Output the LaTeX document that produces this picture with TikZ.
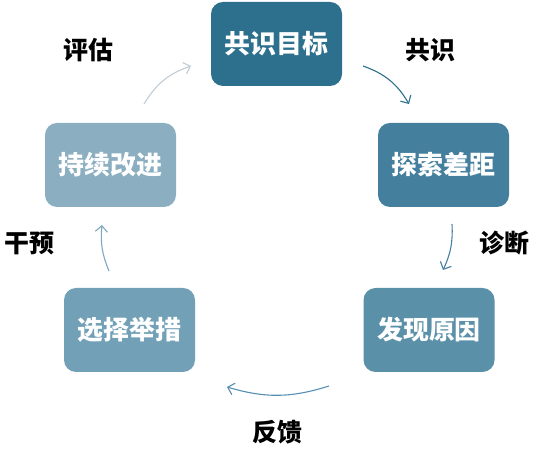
\documentclass[tikz,border=0pt]{standalone}
\usepackage{fontspec}
\setmainfont{Noto Sans CJK SC}
\usetikzlibrary{arrows.meta}
\definecolor{cA}{RGB}{44,112,142}
\definecolor{cB}{RGB}{68,128,157}
\definecolor{cC}{RGB}{91,144,169}
\definecolor{cD}{RGB}{114,160,182}
\definecolor{cE}{RGB}{139,175,193}
\definecolor{aC}{RGB}{84,142,180}
\definecolor{aD}{RGB}{127,166,192}
\definecolor{aE}{RGB}{192,204,214}
\tikzset{
  box/.style={rounded corners=12bp, minimum width=131bp, minimum height=84bp,
    text=white, font=\fontsize{26}{30}\selectfont\bfseries, inner sep=0pt},
  lbl/.style={font=\fontsize{25}{30}\selectfont\bfseries},
  arr/.style={line width=1.1bp, -{Straight Barb[length=6bp,width=12bp]}, bend left=#1}
}
\begin{document}
\begin{tikzpicture}
		[x=1bp, y=1bp]
		\useasboundingbox (0,0) rectangle (536,454);
		\node[box, fill=cA] (goal) at (276.5,410) {共识目标};
		\node[box, fill=cB] (gap) at (443.5,289) {探索差距};
		\node[box, fill=cC] (cause) at (429,124) {发现原因};
		\node[box, fill=cD] (measure) at (129.5,124) {选择举措};
		\node[box, fill=cE] (improve) at (110.5,289) {持续改进};
		\node[lbl] (lgoal) at (430,404) {共识};
		\node[lbl] (lgap) at (504,211) {诊断};
		\node[lbl] (lcause) at (277,22) {反馈};
		\node[lbl] (lmeasure) at (29.5,210) {干预};
		\node[lbl] (limprove) at (88,404) {评估};
		\coordinate (a1) at (363,388);
		\coordinate (b1) at (409,350);
		\coordinate (a2) at (452,230);
		\coordinate (b2) at (443,184);
		\coordinate (a3) at (329,68);
		\coordinate (b3) at (227,67);
		\coordinate (a4) at (109,183);
		\coordinate (b4) at (102,229);
		\coordinate (a5) at (144,350);
		\coordinate (b5) at (191,388);
		\draw (a1) edge[arr=20, draw=cA] (b1);
		\draw (a2) edge[arr=14, draw=cB] (b2);
		\draw (a3) edge[arr=17, draw=aC] (b3);
		\draw (a4) edge[arr=14, draw=aD] (b4);
		\draw (a5) edge[arr=20, draw=aE] (b5);
	\end{tikzpicture}
\end{document}
